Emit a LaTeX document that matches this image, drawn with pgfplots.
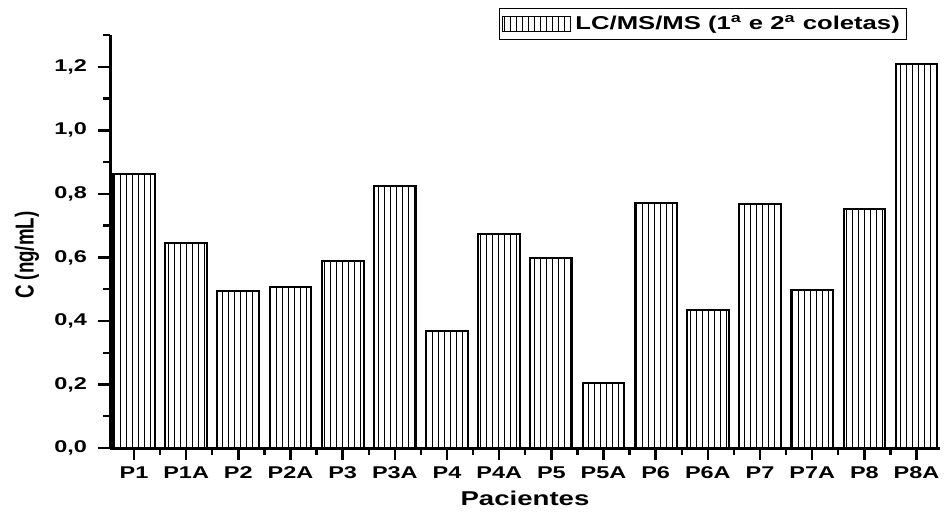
\documentclass[border=0pt]{standalone}
\usepackage{pgfplots}
\pgfplotsset{compat=1.18}
\usepackage{fontspec}
\setmainfont{Liberation Sans}[FakeStretch=1.38]
\newfontfamily\plainfont{Liberation Sans}
\usetikzlibrary{patterns.meta}
\begin{document}
\begin{tikzpicture}
\useasboundingbox (-55pt,-31.5pt) rectangle (417.5pt,224pt);
\begin{axis}[
  scale only axis,
  width=415pt, height=206.5pt,
  xmin=-0.46, xmax=15.45,
  ymin=0, ymax=1.3,
  axis x line*=bottom, axis y line*=left,
  axis line style={line width=1.5pt},
  /pgf/number format/assume math mode=true,
  xtick={0,...,15},
  xticklabels={P1,P1A,P2,P2A,P3,P3A,P4,P4A,P5,P5A,P6,P6A,P7,P7A,P8,P8A},
  minor xtick={0.5,1.5,...,14.5},
  ytick={0,0.2,...,1.21},
  minor ytick={0.1,0.3,...,1.31},
  tick align=outside,
  major tick length=6pt, minor tick length=3.5pt,
  every tick/.style={line width=1.2pt, black},
  x tick label style={font=\fontsize{8.5}{10}\selectfont\bfseries},
  y tick label style={font=\fontsize{8.5}{10}\selectfont\bfseries},
  yticklabel style={xshift=-2pt,
    /pgf/number format/fixed, /pgf/number format/fixed zerofill,
    /pgf/number format/precision=1, /pgf/number format/use comma},
  xlabel={Pacientes},
  ylabel={\scalebox{0.72}[1]{\plainfont\fontsize{13}{15}\selectfont\bfseries C (ng/mL)}},
  xlabel style={font=\fontsize{10}{12}\selectfont\bfseries, yshift=1pt},
  ylabel style={at={(axis description cs:-0.1,0.467)}, anchor=center},
  legend style={at={(0.96,1.065)}, anchor=north east, draw=black, line width=0.6pt,
    font=\fontsize{9.3}{11}\selectfont\bfseries, inner sep=1.2pt,
    legend cell align=left},
  legend image code/.code={
    \draw[line width=0.6pt, pattern={Lines[angle=90,distance=3pt,line width=0.45pt]}, pattern color=black]
      (0pt,-3.8pt) rectangle (34pt,3.8pt);},
]
\addplot[ybar, bar width=0.8, draw=black, line width=1pt,
  pattern={Lines[angle=90,distance=3pt,line width=0.45pt]}, pattern color=black]
coordinates {
(0,0.862) (1,0.645) (2,0.494) (3,0.508) (4,0.589) (5,0.824) (6,0.368) (7,0.675)
(8,0.599) (9,0.206) (10,0.770) (11,0.434) (12,0.767) (13,0.498) (14,0.751) (15,1.210)
};
\addlegendentry{LC/MS/MS (1\textsuperscript{a} e 2\textsuperscript{a} coletas)}
\end{axis}
\end{tikzpicture}
\end{document}
